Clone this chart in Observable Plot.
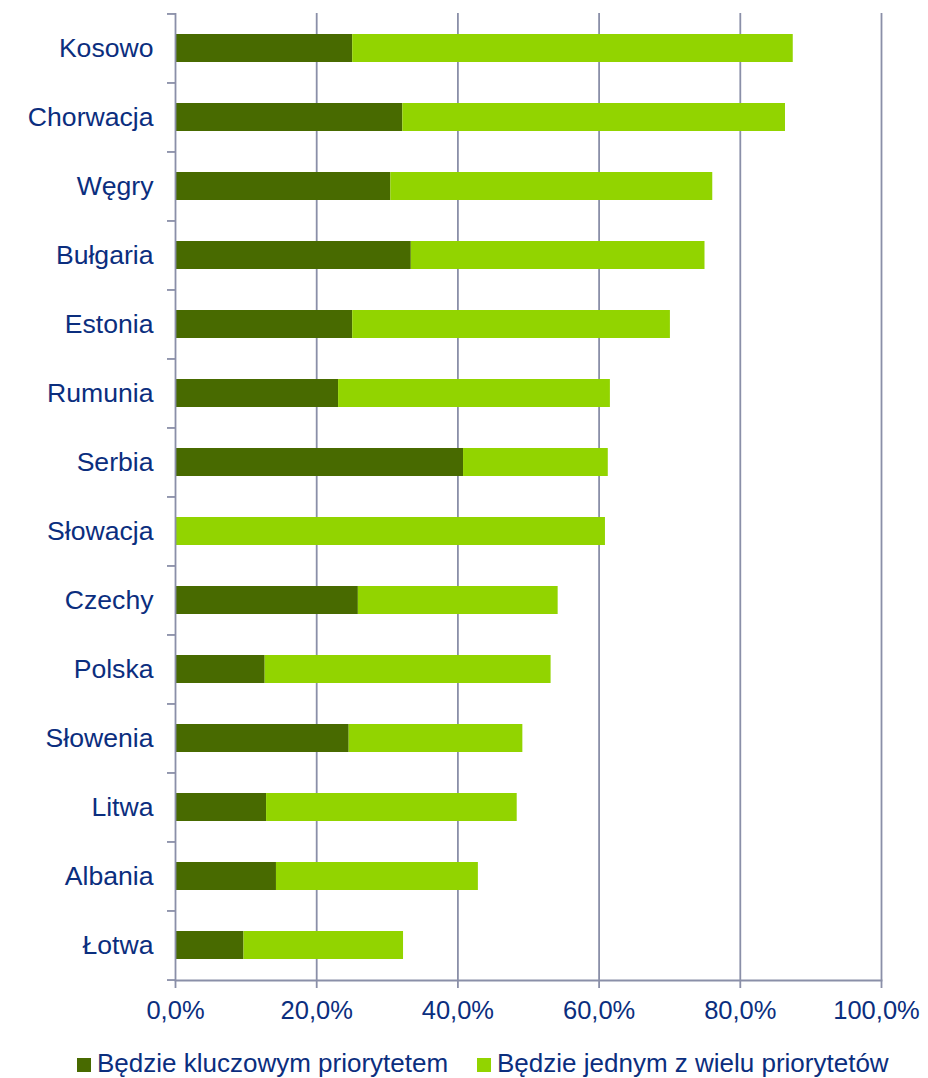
<!DOCTYPE html>
<html>
<head>
<meta charset="utf-8">
<script src="https://cdn.jsdelivr.net/npm/d3@7"></script>
<script src="https://cdn.jsdelivr.net/npm/@observablehq/plot@0.6"></script>
<style>
  html, body { margin: 0; padding: 0; background: #fff; }
  body { width: 928px; height: 1078px; overflow: hidden; font-family: "Liberation Sans", Arial, sans-serif; }
  #legend { position: relative; width: 928px; height: 38px; color: #0b2e7e; font-size: 26px; }
  .item { position: absolute; top: 8px; display: flex; align-items: center; white-space: nowrap; }
  .sw { width: 14px; height: 14px; margin-right: 6px; margin-top: 3px; }
</style>
</head>
<body>
<div id="chart"></div>
<div id="legend"></div>
<script>
const countries = ["Kosowo","Chorwacja","Węgry","Bułgaria","Estonia","Rumunia","Serbia","Słowacja","Czechy","Polska","Słowenia","Litwa","Albania","Łotwa"];
const keyPriority = [25.1, 32.2, 30.5, 33.4, 25.1, 23.1, 40.8, 0, 25.9, 12.7, 24.6, 12.9, 14.3, 9.7];
const onePriority = [62.4, 54.2, 45.6, 41.6, 45.0, 38.5, 20.5, 60.9, 28.3, 40.5, 24.6, 35.5, 28.6, 22.6];
const seriesNames = ["Będzie kluczowym priorytetem", "Będzie jednym z wielu priorytetów"];
const seriesColors = ["#486a00", "#92d400"];
const xTicks = [0, 20, 40, 60, 80, 100];

const rows = [];
countries.forEach((c, i) => {
  rows.push({country: c, series: seriesNames[0], value: keyPriority[i]});
  rows.push({country: c, series: seriesNames[1], value: onePriority[i]});
});

const textColor = "#0b2e7e";
const axisColor = "#8a8fa8";
const height = 1040, marginTop = 13, marginBottom = 60;
const step = (height - marginTop - marginBottom) / countries.length;
const fmt = d => d.toFixed(1).replace(".", ",") + "%";

const chart = Plot.plot({
  width: 928,
  height,
  marginLeft: 175,
  marginRight: 47,
  marginTop,
  marginBottom,
  style: {fontFamily: "'Liberation Sans', Arial, sans-serif", color: textColor, background: "#fff"},
  x: {domain: [0, 100]},
  y: {domain: countries, paddingInner: 0.6, paddingOuter: 0.3},
  color: {domain: seriesNames, range: seriesColors},
  marks: [
    Plot.gridX({ticks: xTicks.slice(1), stroke: axisColor, strokeOpacity: 1, strokeWidth: 1.8}),
    Plot.barX(rows, Plot.stackX({y: "country", x: "value", fill: "series", inset: 0})),
    Plot.ruleX([0], {stroke: axisColor, strokeWidth: 1.8}),
    Plot.frame({anchor: "bottom", stroke: axisColor, strokeWidth: 1.8}),
    Plot.axisX({ticks: xTicks, tickSize: 8, tickPadding: 12, stroke: axisColor, strokeWidth: 1.8, text: null, label: null}),
    Plot.axisX({ticks: xTicks.slice(0, -1), tickSize: 8, tickPadding: 12, tickFormat: fmt, fontSize: 25.5, fill: textColor, stroke: "none", label: null}),
    Plot.axisX({ticks: xTicks.slice(-1), tickSize: 8, tickPadding: 12, tickFormat: fmt, fontSize: 25.5, fill: textColor, stroke: "none", dx: -5, label: null}),
    Plot.axisY({tickSize: 0, tickPadding: 22, fontSize: 26.6, fill: textColor, label: null}),
    Plot.axisY({ticks: countries, text: null, tickSize: 8, stroke: axisColor, strokeWidth: 1.8, dy: -step / 2, label: null}),
    Plot.axisY({ticks: countries.slice(-1), text: null, tickSize: 8, stroke: axisColor, strokeWidth: 1.8, dy: step / 2, label: null})
  ]
});
document.getElementById("chart").appendChild(chart);

const legend = document.getElementById("legend");
const lefts = [77, 477];
seriesNames.forEach((name, i) => {
  const item = document.createElement("div");
  item.className = "item";
  item.style.left = lefts[i] + "px";
  const sw = document.createElement("span");
  sw.className = "sw";
  sw.style.background = seriesColors[i];
  const t = document.createElement("span");
  t.textContent = name;
  item.appendChild(sw);
  item.appendChild(t);
  legend.appendChild(item);
});
</script>
</body>
</html>
